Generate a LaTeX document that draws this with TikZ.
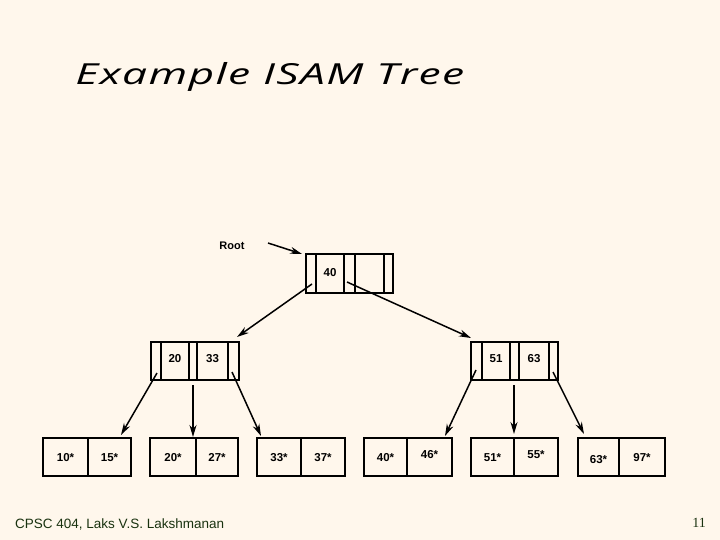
\documentclass[tikz,border=0pt]{standalone}
\usepackage{fontspec}
\setmainfont{Liberation Sans}
\newfontfamily\titlefont[LetterSpace=3]{Open Sans}
\newfontfamily\serifno{Liberation Serif}
\usetikzlibrary{arrows.meta}
\definecolor{bg}{RGB}{255,247,236}
\definecolor{foot}{RGB}{25,50,15}
\begin{document}
\begin{tikzpicture}[x=1pt,y=-1pt,
  cell/.style={draw,line width=1.8pt,rectangle,inner sep=0pt,minimum height=38pt,text height=8.5pt,text depth=0pt,font=\bfseries\fontsize{11.5}{14}\selectfont},
  ptr/.style={-{Stealth[length=12pt,width=7pt]},line width=1.5pt}]
\fill[bg] (0,0) rectangle (720,540);
\useasboundingbox (0,0) rectangle (720,540);
% title
\node[anchor=base west,inner sep=0pt,xscale=1.53,font=\titlefont\fontsize{29}{32}\selectfont\itshape] (title) at (75,85) {Example ISAM Tree};
% root
\node[font=\bfseries\fontsize{11}{13}\selectfont] (rootlbl) at (232,246) {Root};
\node[cell,minimum height=39pt,minimum width=10pt] (r1) at (311,273.5) {};
\node[cell,minimum height=39pt,minimum width=28pt] (r2) at (330,273.5) {\raisebox{1.5pt}{40}};
\node[cell,minimum height=39pt,minimum width=11pt] (r3) at (349.5,273.5) {};
\node[cell,minimum height=39pt,minimum width=29pt] (r4) at (369.5,273.5) {};
\node[cell,minimum height=39pt,minimum width=9pt] (r5) at (388.5,273.5) {};
% left index
\node[cell,minimum width=10pt] (a1) at (156,361) {};
\node[cell,minimum width=28pt] (a2) at (175,361) {\raisebox{3pt}{20}};
\node[cell,minimum width=8pt] (a3) at (193,361) {};
\node[cell,minimum width=31pt] (a4) at (212.5,361) {\raisebox{3pt}{33}};
\node[cell,minimum width=11pt] (a5) at (233.5,361) {};
% right index
\node[cell,minimum width=11pt] (b1) at (476.5,361) {};
\node[cell,minimum width=28pt] (b2) at (496,361) {\raisebox{3pt}{51}};
\node[cell,minimum width=9pt] (b3) at (514.5,361) {};
\node[cell,minimum width=30pt] (b4) at (534,361) {\raisebox{3pt}{63}};
\node[cell,minimum width=9pt] (b5) at (553.5,361) {};
% leaves
\node[cell,minimum width=45pt] (l1a) at (65.5,457) {10*};
\node[cell,minimum width=43pt] (l1b) at (109.5,457) {15*};
\node[cell,minimum width=46pt] (l2a) at (173,457) {20*};
\node[cell,minimum width=42pt] (l2b) at (217,457) {27*};
\node[cell,minimum width=44pt] (l3a) at (279,457) {33*};
\node[cell,minimum width=44pt] (l3b) at (323,457) {37*};
\node[cell,minimum width=43pt] (l4a) at (385.5,457) {40*};
\node[cell,minimum width=45pt] (l4b) at (429.5,457) {\raisebox{3pt}{46*}};
\node[cell,minimum width=43pt] (l5a) at (492.5,457) {51*};
\node[cell,minimum width=44pt] (l5b) at (536,457) {\raisebox{3pt}{55*}};
\node[cell,minimum width=41pt] (l6a) at (598.5,457) {\raisebox{-2pt}{63*}};
\node[cell,minimum width=46pt] (l6b) at (642,457) {97*};
% pointer origins
\coordinate (rs) at (268,243);
\coordinate (r1s) at (312,284);
\coordinate (r3s) at (347,282);
\coordinate (a1s) at (157,373);
\coordinate (a3s) at (193,385);
\coordinate (a5s) at (232,372);
\coordinate (b1s) at (476,370);
\coordinate (b3s) at (514,385);
\coordinate (b5s) at (553,372);
% pointer targets
\coordinate (rt) at (302,254);
\coordinate (at) at (237,337);
\coordinate (bt) at (471,338);
\coordinate (l1t) at (121,435);
\coordinate (l2t) at (193,437);
\coordinate (l3t) at (261,436);
\coordinate (l4t) at (445,436);
\coordinate (l5t) at (514,434);
\coordinate (l6t) at (584,434);
\draw[ptr] (rs) -- (rt);
\draw[ptr] (r1s) -- (at);
\draw[ptr] (r3s) -- (bt);
\draw[ptr] (a1s) -- (l1t);
\draw[ptr] (a3s) -- (l2t);
\draw[ptr] (a5s) -- (l3t);
\draw[ptr] (b1s) -- (l4t);
\draw[ptr] (b3s) -- (l5t);
\draw[ptr] (b5s) -- (l6t);
% footer
\node[anchor=base west,inner sep=0pt,text=foot,font=\fontsize{13.5}{15}\selectfont] (footer) at (15,528) {CPSC 404, Laks V.S. Lakshmanan};
\node[inner sep=0pt,text=foot,font=\serifno\fontsize{14}{15}\selectfont] (pageno) at (699,523) {11};
\end{tikzpicture}
\end{document}
